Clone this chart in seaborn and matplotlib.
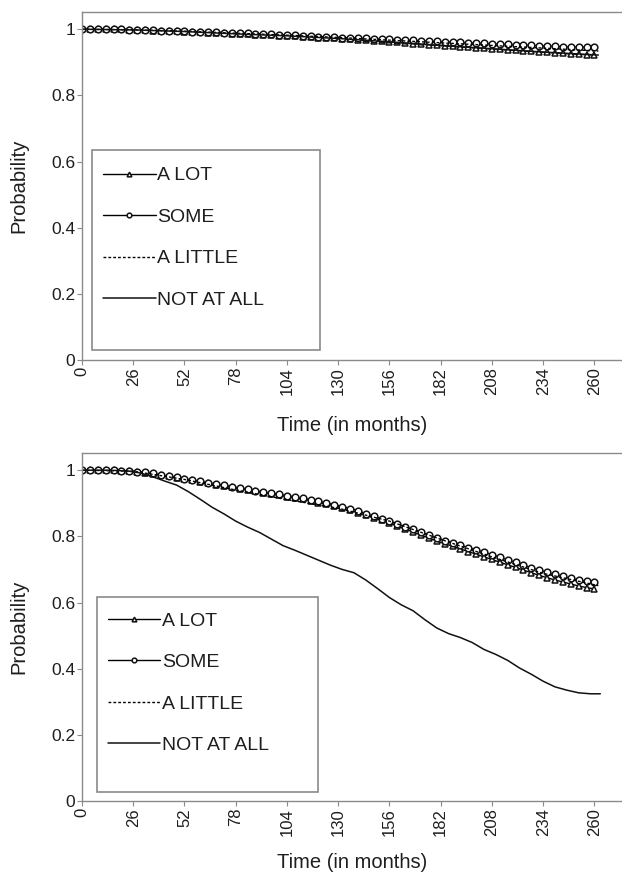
"""Survival curves by response group, two stacked panels."""

import matplotlib
matplotlib.use("Agg")
import matplotlib.pyplot as plt
import matplotlib.patches as patches
import seaborn as sns

sns.set_theme(style="ticks")
plt.rcParams["font.family"] = ["Liberation Sans", "DejaVu Sans"]

INK = "#1e1e1e"
SPINE = "#8a8a8a"

MONTHS = list(range(0, 264, 4))
COARSE_MONTHS = [0, 26, 52, 78, 104, 130, 156, 182, 208, 234, 262]

TOP_A_LOT = [1.000, 1.000, 1.000, 1.000, 1.000, 1.000, 0.999, 0.998, 0.997, 0.996,
             0.995, 0.995, 0.994, 0.993, 0.992, 0.991, 0.990, 0.989, 0.988, 0.987,
             0.986, 0.985, 0.984, 0.983, 0.982, 0.981, 0.980, 0.979, 0.978, 0.976,
             0.975, 0.973, 0.972, 0.970, 0.969, 0.967, 0.966, 0.964, 0.963, 0.961,
             0.960, 0.958, 0.956, 0.955, 0.953, 0.951, 0.950, 0.948, 0.946, 0.945,
             0.943, 0.942, 0.940, 0.939, 0.937, 0.936, 0.934, 0.933, 0.931, 0.930,
             0.928, 0.927, 0.925, 0.924, 0.923, 0.922]
TOP_SOME = [1.000, 1.000, 1.000, 1.000, 1.000, 1.000, 0.999, 0.998, 0.997, 0.997,
            0.996, 0.995, 0.995, 0.994, 0.993, 0.993, 0.992, 0.991, 0.990, 0.990,
            0.989, 0.988, 0.987, 0.986, 0.985, 0.984, 0.983, 0.982, 0.981, 0.980,
            0.978, 0.977, 0.976, 0.975, 0.974, 0.973, 0.972, 0.971, 0.970, 0.969,
            0.968, 0.967, 0.966, 0.965, 0.964, 0.963, 0.962, 0.961, 0.960, 0.959,
            0.958, 0.957, 0.956, 0.955, 0.954, 0.953, 0.952, 0.951, 0.950, 0.949,
            0.948, 0.947, 0.946, 0.946, 0.945, 0.945]
TOP_A_LITTLE = [1.000, 0.998, 0.994, 0.988, 0.982, 0.975, 0.967, 0.959, 0.951, 0.943, 0.934]
TOP_NOT_AT_ALL = [1.000, 0.998, 0.993, 0.986, 0.980, 0.972, 0.962, 0.951, 0.941, 0.931, 0.922]

BOT_A_LOT = [1.000, 1.000, 1.000, 1.000, 1.000, 0.999, 0.997, 0.995, 0.992, 0.989,
             0.985, 0.981, 0.977, 0.973, 0.969, 0.965, 0.961, 0.956, 0.952, 0.948,
             0.944, 0.940, 0.936, 0.932, 0.928, 0.924, 0.920, 0.916, 0.912, 0.907,
             0.902, 0.897, 0.892, 0.886, 0.879, 0.872, 0.864, 0.856, 0.848, 0.840,
             0.831, 0.822, 0.813, 0.804, 0.795, 0.786, 0.778, 0.770, 0.762, 0.754,
             0.746, 0.738, 0.730, 0.722, 0.714, 0.706, 0.698, 0.690, 0.682, 0.675,
             0.668, 0.662, 0.656, 0.650, 0.645, 0.641]
BOT_SOME = [1.000, 1.000, 1.000, 1.000, 1.000, 0.999, 0.998, 0.996, 0.993, 0.990,
            0.986, 0.982, 0.978, 0.974, 0.970, 0.966, 0.962, 0.958, 0.954, 0.950,
            0.946, 0.942, 0.938, 0.934, 0.930, 0.927, 0.923, 0.919, 0.915, 0.911,
            0.906, 0.901, 0.896, 0.890, 0.884, 0.877, 0.869, 0.861, 0.853, 0.845,
            0.837, 0.829, 0.821, 0.812, 0.803, 0.795, 0.787, 0.780, 0.773, 0.766,
            0.759, 0.752, 0.745, 0.737, 0.729, 0.721, 0.713, 0.705, 0.698, 0.691,
            0.685, 0.679, 0.673, 0.668, 0.664, 0.661]
BOT_A_LITTLE = [1.000, 0.997, 0.972, 0.940, 0.911, 0.885, 0.846, 0.791, 0.738, 0.688, 0.651]

NOT_AT_ALL_MONTHS = [0, 6, 12, 18, 24, 30, 36, 42, 48, 54, 60, 66, 72, 78, 84, 90,
                     96, 102, 108, 114, 120, 126, 132, 138, 144, 150, 156, 162, 168,
                     174, 180, 186, 192, 198, 204, 210, 216, 222, 228, 234, 240, 246,
                     252, 258, 263]
BOT_NOT_AT_ALL = [1.000, 1.000, 1.000, 0.999, 0.997, 0.991, 0.980, 0.967, 0.955, 0.935,
                  0.912, 0.888, 0.868, 0.846, 0.828, 0.812, 0.792, 0.772, 0.758, 0.743,
                  0.728, 0.713, 0.700, 0.690, 0.668, 0.642, 0.615, 0.593, 0.575, 0.548,
                  0.523, 0.506, 0.494, 0.479, 0.458, 0.443, 0.425, 0.402, 0.383, 0.362,
                  0.345, 0.335, 0.327, 0.324, 0.324]

X_TICKS = [0, 26, 52, 78, 104, 130, 156, 182, 208, 234, 260]
Y_TICKS = [0, 0.2, 0.4, 0.6, 0.8, 1.0]
Y_TICK_LABELS = ["0", "0.2", "0.4", "0.6", "0.8", "1"]


def draw_panel(ax, a_lot, some, a_little, little_months, not_at_all, not_months,
               box, legend_anchor):
    marker_kw = dict(markersize=4.8, markeredgewidth=1.1, markerfacecolor="white",
                     markeredgecolor="#111111", color="black", linewidth=1.0)
    sns.lineplot(x=MONTHS, y=a_lot, ax=ax, marker="^", label="A LOT", **marker_kw)
    sns.lineplot(x=MONTHS, y=some, ax=ax, marker="o", label="SOME", **marker_kw)
    sns.lineplot(x=little_months, y=a_little, ax=ax, color="black", linewidth=1.0,
                 linestyle=(0, (2, 1.5)), label="A LITTLE")
    sns.lineplot(x=not_months, y=not_at_all, ax=ax, color="#111111", linewidth=1.1,
                 label="NOT AT ALL")

    ax.set_xlim(0, 274)
    ax.set_ylim(0, 1.053)
    ax.set_xticks(X_TICKS)
    ax.set_xticklabels([str(t) for t in X_TICKS], rotation=90, fontsize=12, color=INK)
    ax.set_yticks(Y_TICKS)
    ax.set_yticklabels(Y_TICK_LABELS, fontsize=12.5, color=INK)
    ax.tick_params(axis="both", length=3.5, width=0.8, color=SPINE, pad=1.5)

    for side in ["left", "bottom", "top"]:
        ax.spines[side].set_color(SPINE)
        ax.spines[side].set_linewidth(1.0)
    ax.spines["right"].set_visible(False)

    ax.set_ylabel("Probability", fontsize=14.5, color=INK)
    ax.set_xlabel("Time (in months)", fontsize=14.5, color=INK)
    ax.yaxis.set_label_coords(-0.10, 0.5)

    # legend frame is taller than its entries in the original
    x0, y0, x1, y1 = box
    rect = patches.Rectangle((x0, y0), x1 - x0, y1 - y0, transform=ax.transAxes,
                             fill=False, edgecolor=SPINE, linewidth=1.2, zorder=5)
    ax.add_patch(rect)
    leg = ax.legend(loc="upper left", bbox_to_anchor=legend_anchor, frameon=False,
                    fontsize=14, labelspacing=1.23, handlelength=2.7,
                    handletextpad=0.1, borderpad=0, borderaxespad=0, numpoints=1,
                    markerscale=0.7)
    for text in leg.get_texts():
        text.set_color(INK)


fig = plt.figure(figsize=(6.22, 8.73), dpi=100)
ax_top = fig.add_axes([0.1318, 0.5876, 0.8682, 0.3990])
ax_bot = fig.add_axes([0.1318, 0.0825, 0.8682, 0.3990])

draw_panel(ax_top, TOP_A_LOT, TOP_SOME, TOP_A_LITTLE, COARSE_MONTHS,
           TOP_NOT_AT_ALL, COARSE_MONTHS,
           box=(0.0185, 0.0287, 0.4407, 0.603), legend_anchor=(0.039, 0.555))
draw_panel(ax_bot, BOT_A_LOT, BOT_SOME, BOT_A_LITTLE, COARSE_MONTHS,
           BOT_NOT_AT_ALL, NOT_AT_ALL_MONTHS,
           box=(0.0278, 0.0258, 0.437, 0.5857), legend_anchor=(0.048, 0.5426))

ax_top.xaxis.set_label_coords(0.5, -0.16)
ax_bot.xaxis.set_label_coords(0.5, -0.15)

fig.savefig("out.png", dpi=100)
